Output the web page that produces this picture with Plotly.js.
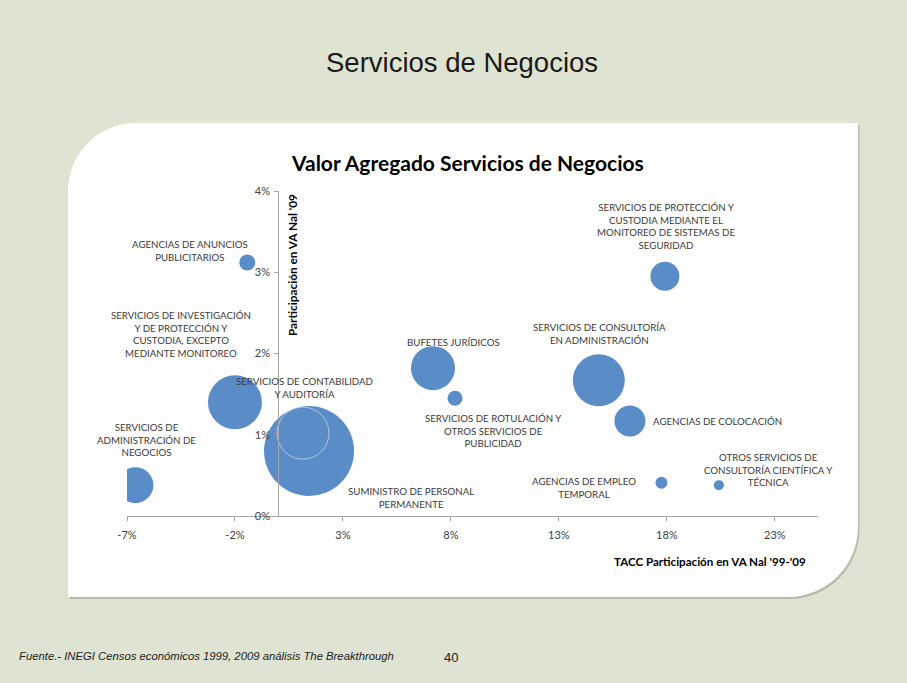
<!DOCTYPE html>
<html><head><meta charset="utf-8">
<script src="https://cdn.plot.ly/plotly-3.0.1.min.js"></script>
<style>html,body{margin:0;padding:0;background:#dee3d2}</style>
</head><body><div id="chart" style="width:907px;height:683px"></div>
<script>
// ---- data ----
const sectores = [
  "Agencias de anuncios publicitarios",
  "Servicios de investigación y de protección y custodia, excepto mediante monitoreo",
  "Servicios de administración de negocios",
  "Suministro de personal permanente",
  "Servicios de contabilidad y auditoría",
  "Bufetes jurídicos",
  "Servicios de rotulación y otros servicios de publicidad",
  "Servicios de consultoría en administración",
  "Agencias de colocación",
  "Servicios de protección y custodia mediante el monitoreo de sistemas de seguridad",
  "Agencias de empleo temporal",
  "Otros servicios de consultoría científica y técnica"
];
const tacc = [-1.43, -2.0, -6.61, 1.43, 1.15, 7.17, 8.19, 14.85, 16.29, 17.91, 17.75, 20.41];
const participacion = [3.12, 1.40, 0.38, 0.80, 1.02, 1.82, 1.45, 1.67, 1.17, 2.95, 0.41, 0.38];
const tamanoBurbuja = [16, 54, 36, 90, 52, 44, 15, 52, 31, 29, 12, 10];
const etiquetas = [
  "AGENCIAS DE ANUNCIOS<br>PUBLICITARIOS",
  "SERVICIOS DE INVESTIGACIÓN<br>Y DE PROTECCIÓN Y<br>CUSTODIA, EXCEPTO<br>MEDIANTE MONITOREO",
  "SERVICIOS DE<br>ADMINISTRACIÓN DE<br>NEGOCIOS",
  "SUMINISTRO DE PERSONAL<br>PERMANENTE",
  "SERVICIOS DE CONTABILIDAD<br>Y AUDITORÍA",
  "BUFETES JURÍDICOS",
  "SERVICIOS DE ROTULACIÓN Y<br>OTROS SERVICIOS DE<br>PUBLICIDAD",
  "SERVICIOS DE CONSULTORÍA<br>EN ADMINISTRACIÓN",
  "AGENCIAS DE COLOCACIÓN",
  "SERVICIOS DE PROTECCIÓN Y<br>CUSTODIA MEDIANTE EL<br>MONITOREO DE SISTEMAS DE<br>SEGURIDAD",
  "AGENCIAS DE EMPLEO<br>TEMPORAL",
  "OTROS SERVICIOS DE<br>CONSULTORÍA CIENTÍFICA Y<br>TÉCNICA"
];
const ticksX = [-7, -2, 3, 8, 13, 18, 23];
const ticksY = [0, 1, 2, 3, 4];

// ---- layout helpers (pixel -> paper) ----
const M = {l: 127, r: 89, t: 191, b: 167};
const FW = 907, FH = 683;
const PW = FW - M.l - M.r, PH = FH - M.t - M.b;
const px = x => (x - M.l) / PW;
const py = y => (FH - M.b - y) / PH;

// label placement (pixel centres)
const labelPos = [
  [190, 250, 'center'], [181, 334, 'center'], [146, 439, 'center'],
  [411, 497, 'center'], [304, 387, 'center'], [453, 342, 'center'],
  [493, 430, 'center'], [599, 333, 'center'], [651, 421, 'left'],
  [666, 226, 'center'], [584, 487, 'center'], [768, 469, 'center']
];

const chartFont = 'Lato, "Open Sans", sans-serif';
const labelAnn = etiquetas.map((t, i) => ({
  xref: 'paper', yref: 'paper', x: px(labelPos[i][0]), y: py(labelPos[i][1]),
  xanchor: labelPos[i][2], yanchor: 'middle', text: t, showarrow: false,
  align: 'center', font: {family: chartFont, size: 9.7, color: '#3a3a3a'}
}));

function panelPath(dx, dy) {
  const P = (x, y) => `${px(x + dx)},${py(y + dy)}`;
  const r1 = 68, r2 = 70, k = 0.5523;
  return `M ${P(68, 597)} L ${P(68, 123 + r1)} C ${P(68, 123 + r1 - k * r1)} ${P(68 + r1 - k * r1, 123)} ${P(68 + r1, 123)} ` +
    `L ${P(858, 123)} L ${P(858, 597 - r2)} C ${P(858, 597 - r2 + k * r2)} ${P(858 - r2 + k * r2, 597)} ${P(858 - r2, 597)} Z`;
}

const trace = {
  type: 'scatter', mode: 'markers',
  x: tacc, y: participacion, text: sectores, hoverinfo: 'text',
  marker: {
    size: tamanoBurbuja, sizemode: 'diameter', sizeref: 1,
    color: '#5a8dc8', opacity: 1,
    line: {
      width: 1,
      color: sectores.map(s => s.startsWith('Servicios de contabilidad') ? 'rgba(255,255,255,0.5)' : 'rgba(0,0,0,0)')
    }
  },
  cliponaxis: true
};

const layout = {
  width: FW, height: FH, margin: M,
  paper_bgcolor: '#dee3d2', plot_bgcolor: 'rgba(0,0,0,0)',
  showlegend: false,
  xaxis: {
    range: [-7, 25], tickvals: ticksX, ticktext: ticksX.map(v => v + '%'),
    showgrid: false, zeroline: false, showline: true, linecolor: '#a6a6a6', linewidth: 1,
    ticks: 'outside', ticklen: 4, tickcolor: '#a6a6a6', ticklabelstandoff: 5,
    tickfont: {family: chartFont, size: 11, color: '#404040'}, fixedrange: true
  },
  yaxis: {
    range: [0, 4], tickvals: ticksY, ticktext: ticksY.map(v => v + '%'),
    anchor: 'free', position: px(278.2),
    showgrid: false, zeroline: false, showline: true, linecolor: '#a6a6a6', linewidth: 1,
    ticks: 'outside', ticklen: 4, tickcolor: '#a6a6a6', ticklabelstandoff: 2,
    tickfont: {family: chartFont, size: 11, color: '#404040'}, fixedrange: true
  },
  shapes: [
    {type: 'path', xref: 'paper', yref: 'paper', layer: 'below', path: panelPath(1.5, 2),
     fillcolor: 'rgba(110,115,100,0.35)', line: {width: 0}},
    {type: 'path', xref: 'paper', yref: 'paper', layer: 'below', path: panelPath(0, 0),
     fillcolor: '#ffffff', line: {width: 0}}
  ],
  annotations: [
    {xref: 'paper', yref: 'paper', x: px(462), y: py(62), text: 'Servicios de Negocios', showarrow: false,
     xanchor: 'center', yanchor: 'middle', font: {family: 'Liberation Sans, Arial, sans-serif', size: 27.5, color: '#1a1a1a'}},
    {xref: 'paper', yref: 'paper', x: px(467), y: py(163), text: '<b>Valor Agregado Servicios de Negocios</b>', showarrow: false,
     xanchor: 'center', yanchor: 'middle', font: {family: chartFont, size: 21, color: '#000000'}},
    {xref: 'paper', yref: 'paper', x: px(292), y: py(265), text: "<b>Participación en VA Nal '09</b>", showarrow: false,
     textangle: -90, xanchor: 'center', yanchor: 'middle', font: {family: chartFont, size: 11.8, color: '#000000'}},
    {xref: 'paper', yref: 'paper', x: px(808), y: py(561), text: "<b>TACC Participación en VA Nal '99-'09</b>", showarrow: false,
     xanchor: 'right', yanchor: 'middle', font: {family: chartFont, size: 11.6, color: '#000000'}},
    {xref: 'paper', yref: 'paper', x: px(17), y: py(656), text: '<i>Fuente.- INEGI Censos económicos 1999, 2009 análisis The Breakthrough</i>', showarrow: false,
     xanchor: 'left', yanchor: 'middle', font: {family: 'Liberation Sans, Arial, sans-serif', size: 11.3, color: '#222222'}},
    {xref: 'paper', yref: 'paper', x: px(451), y: py(657), text: '40', showarrow: false,
     xanchor: 'center', yanchor: 'middle', font: {family: 'Liberation Sans, Arial, sans-serif', size: 13, color: '#222222'}}
  ].concat(labelAnn)
};

Plotly.newPlot('chart', [trace], layout, {displayModeBar: false, staticPlot: true});
</script>
</body></html>
